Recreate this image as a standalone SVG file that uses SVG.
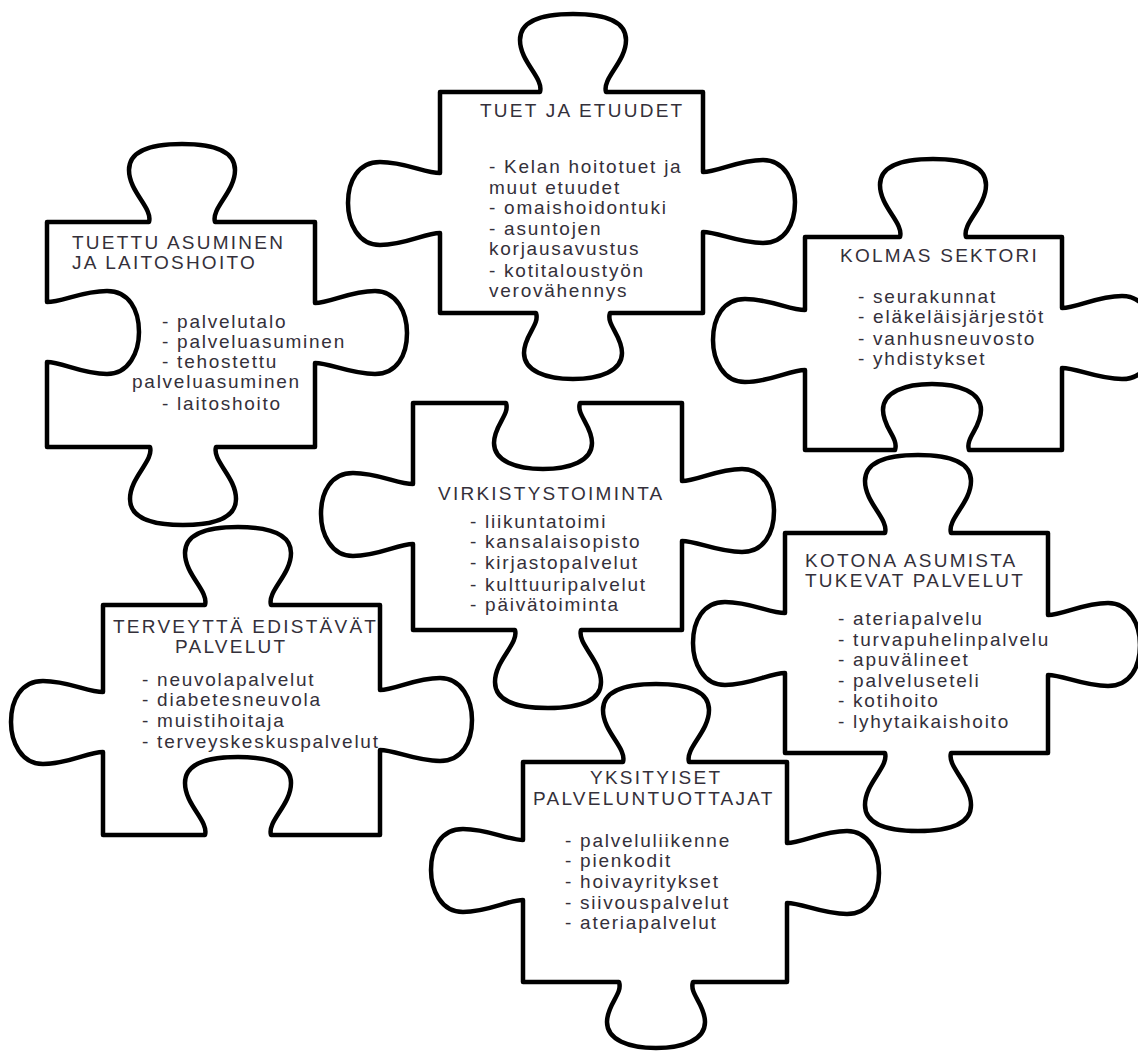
<svg xmlns="http://www.w3.org/2000/svg" width="1138" height="1052" viewBox="0 0 1138 1052">
<style>
.bg{fill:#ffffff}
.piece{fill:#ffffff;stroke:#000000;stroke-width:4.5;stroke-linejoin:round}
.t{font-family:"Liberation Sans",Arial,sans-serif;font-size:19px;fill:#34303a;letter-spacing:2.25px}
.i{font-family:"Liberation Sans",Arial,sans-serif;font-size:19px;fill:#34303a;letter-spacing:1.75px}
</style>
<rect class="bg" x="0" y="0" width="1138" height="1052"/>
<g id="connectors"/>
<g id="tuettu-asuminen">
<path class="piece" d="M47,222 H149 c4,-14 -20,-30 -20,-52 c0,-18 20,-26 53,-26 c33,0 53,8 53,26 c0,22 -24,38 -20,52 H315 V303 c15,0 35,-12 60,-12 c22,0 32,22 32,42 c0,22 -10,41 -32,41 c-25,0 -45,-11 -60,-11 V447 H216 c-4,14 20,30 20,52 c0,18 -20,26 -53,26 c-33,0 -53,-8 -53,-26 c0,-22 24,-38 20,-52 H47 V362 c15,0 35,12 60,12 c22,0 32,-22 32,-42 c0,-22 -10,-41 -32,-41 c-25,0 -45,11 -60,11 Z"/>
<text class="t" x="72" y="249">TUETTU ASUMINEN</text>
<text class="t" x="72" y="269">JA LAITOSHOITO</text>
<text class="i" x="162" y="328">- palvelutalo</text>
<text class="i" x="162" y="348">- palveluasuminen</text>
<text class="i" x="162" y="368">- tehostettu</text>
<text class="i" x="132" y="388">palveluasuminen</text>
<text class="i" x="162" y="410">- laitoshoito</text>
</g>
<g id="tuet-ja-etuudet">
<path class="piece" d="M440,92 H540 c4,-14 -20,-30 -20,-52 c0,-18 20,-26 53,-26 c33,0 53,8 53,26 c0,22 -24,38 -20,52 H703 V172 c15,0 35,-12 60,-12 c22,0 32,22 32,42 c0,22 -10,41 -32,41 c-25,0 -45,-11 -60,-11 V313 H610 c-4,12 12,22 12,40 c0,18 -22,26 -49,26 c-27,0 -49,-8 -49,-26 c0,-18 16,-28 12,-40 H440 V233 c-15,0 -35,12 -60,12 c-22,0 -32,-22 -32,-42 c0,-22 10,-41 32,-41 c25,0 45,11 60,11 Z"/>
<text class="t" x="480" y="117">TUET JA ETUUDET</text>
<text class="i" x="489" y="173">- Kelan hoitotuet ja</text>
<text class="i" x="489" y="194">muut etuudet</text>
<text class="i" x="489" y="214">- omaishoidontuki</text>
<text class="i" x="489" y="235">- asuntojen</text>
<text class="i" x="489" y="255">korjausavustus</text>
<text class="i" x="489" y="277">- kotitaloustyön</text>
<text class="i" x="489" y="297">verovähennys</text>
</g>
<g id="kolmas-sektori">
<path class="piece" d="M805,237 H900 c4,-14 -20,-30 -20,-52 c0,-18 20,-26 53,-26 c33,0 53,8 53,26 c0,22 -24,38 -20,52 H1062 V308 c15,0 35,-12 60,-12 c22,0 32,22 32,42 c0,22 -10,41 -32,41 c-25,0 -45,-11 -60,-11 V450 H969 c-4,-12 12,-22 12,-40 c0,-18 -22,-26 -49,-26 c-27,0 -49,8 -49,26 c0,18 16,28 12,40 H805 V370 c-15,0 -35,12 -60,12 c-22,0 -32,-22 -32,-42 c0,-22 10,-41 32,-41 c25,0 45,11 60,11 Z"/>
<text class="t" x="840" y="262">KOLMAS SEKTORI</text>
<text class="i" x="858" y="303">- seurakunnat</text>
<text class="i" x="858" y="323">- eläkeläisjärjestöt</text>
<text class="i" x="858" y="345">- vanhusneuvosto</text>
<text class="i" x="858" y="365">- yhdistykset</text>
</g>
<g id="virkistystoiminta">
<path class="piece" d="M413,403 H506 c4,12 -12,22 -12,40 c0,18 22,26 49,26 c27,0 49,-8 49,-26 c0,-18 -16,-28 -12,-40 H682 V481 c15,0 35,-12 60,-12 c22,0 32,22 32,42 c0,22 -10,41 -32,41 c-25,0 -45,-11 -60,-11 V630 H581 c-4,14 20,30 20,52 c0,18 -20,26 -53,26 c-33,0 -53,-8 -53,-26 c0,-22 24,-38 20,-52 H413 V544 c-15,0 -35,12 -60,12 c-22,0 -32,-22 -32,-42 c0,-22 10,-41 32,-41 c25,0 45,11 60,11 Z"/>
<text class="t" x="438" y="500">VIRKISTYSTOIMINTA</text>
<text class="i" x="470" y="528">- liikuntatoimi</text>
<text class="i" x="470" y="548">- kansalaisopisto</text>
<text class="i" x="470" y="569">- kirjastopalvelut</text>
<text class="i" x="470" y="591">- kulttuuripalvelut</text>
<text class="i" x="470" y="611">- päivätoiminta</text>
</g>
<g id="terveytta-edistavat">
<path class="piece" d="M103,605 H205 c4,-14 -20,-30 -20,-52 c0,-18 20,-26 53,-26 c33,0 53,8 53,26 c0,22 -24,38 -20,52 H380 V690 c15,0 35,-12 60,-12 c22,0 32,22 32,42 c0,22 -10,41 -32,41 c-25,0 -45,-11 -60,-11 V835 H271 c-4,-14 20,-30 20,-52 c0,-18 -20,-26 -53,-26 c-33,0 -53,8 -53,26 c0,22 24,38 20,52 H103 V752 c-15,0 -35,12 -60,12 c-22,0 -32,-22 -32,-42 c0,-22 10,-41 32,-41 c25,0 45,11 60,11 Z"/>
<text class="t" x="113" y="633">TERVEYTTÄ EDISTÄVÄT</text>
<text class="t" x="175" y="653">PALVELUT</text>
<text class="i" x="142" y="686">- neuvolapalvelut</text>
<text class="i" x="142" y="706">- diabetesneuvola</text>
<text class="i" x="142" y="727">- muistihoitaja</text>
<text class="i" x="142" y="748">- terveyskeskuspalvelut</text>
</g>
<g id="kotona-asumista">
<path class="piece" d="M785,533 H885 c4,-14 -20,-30 -20,-52 c0,-18 20,-26 53,-26 c33,0 53,8 53,26 c0,22 -24,38 -20,52 H1048 V615 c15,0 35,-12 60,-12 c22,0 32,22 32,42 c0,22 -10,41 -32,41 c-25,0 -45,-11 -60,-11 V753 H951 c-4,14 20,30 20,52 c0,18 -20,26 -53,26 c-33,0 -53,-8 -53,-26 c0,-22 24,-38 20,-52 H785 V673 c-15,0 -35,12 -60,12 c-22,0 -32,-22 -32,-42 c0,-22 10,-41 32,-41 c25,0 45,11 60,11 Z"/>
<text class="t" x="805" y="567">KOTONA ASUMISTA</text>
<text class="t" x="805" y="587">TUKEVAT PALVELUT</text>
<text class="i" x="838" y="625">- ateriapalvelu</text>
<text class="i" x="838" y="646">- turvapuhelinpalvelu</text>
<text class="i" x="838" y="666">- apuvälineet</text>
<text class="i" x="838" y="687">- palveluseteli</text>
<text class="i" x="838" y="707">- kotihoito</text>
<text class="i" x="838" y="728">- lyhytaikaishoito</text>
</g>
<g id="yksityiset">
<path class="piece" d="M523,762 H623 c4,-14 -20,-30 -20,-52 c0,-18 20,-26 53,-26 c33,0 53,8 53,26 c0,22 -24,38 -20,52 H787 V843 c15,0 35,-12 60,-12 c22,0 32,22 32,42 c0,22 -10,41 -32,41 c-25,0 -45,-11 -60,-11 V982 H693 c-4,12 12,22 12,40 c0,18 -22,26 -49,26 c-27,0 -49,-8 -49,-26 c0,-18 16,-28 12,-40 H523 V900 c-15,0 -35,12 -60,12 c-22,0 -32,-22 -32,-42 c0,-22 10,-41 32,-41 c25,0 45,11 60,11 Z"/>
<text class="t" x="590" y="784">YKSITYISET</text>
<text class="t" x="533" y="805">PALVELUNTUOTTAJAT</text>
<text class="i" x="565" y="847">- palveluliikenne</text>
<text class="i" x="565" y="867">- pienkodit</text>
<text class="i" x="565" y="888">- hoivayritykset</text>
<text class="i" x="565" y="909">- siivouspalvelut</text>
<text class="i" x="565" y="929">- ateriapalvelut</text>
</g>
</svg>
